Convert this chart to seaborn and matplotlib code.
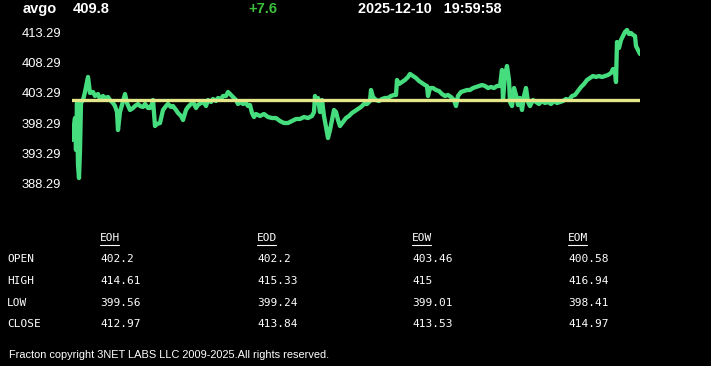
"""
AVGO intraday snapshot - price trace with open line and period OHLC table
"""

import numpy as np
import pandas as pd
import matplotlib
matplotlib.use('Agg')
import matplotlib.pyplot as plt
from matplotlib.lines import Line2D
import seaborn as sns

# ---- data ----
symbol = 'avgo'
last_price = 409.8
change = '+7.6'
stamp = '2025-12-10   19:59:58'
open_price = 402.2

# session position (left to right) and traded price
t = [72, 74, 75, 76, 77, 78, 79, 80, 81, 83, 85, 88, 90, 93, 95, 98, 100, 103, 105, 108,
     110, 113, 115, 117, 118, 120, 122, 125, 127, 130, 133, 135, 138, 140, 143, 145, 148, 150, 152, 153,
     155, 157, 160, 163, 166, 168, 171, 173, 176, 178, 181, 183, 186, 188, 191, 193, 196, 198, 201, 203,
     206, 208, 211, 213, 216, 218, 221, 223, 226, 228, 231, 233, 236, 238, 241, 243, 246, 248, 250, 252,
     254, 256, 260, 264, 268, 272, 276, 280, 284, 288, 292, 296, 300, 304, 308, 312, 314, 315, 316, 318,
     320, 322, 324, 326, 328, 330, 332, 334, 336, 338, 340, 343, 346, 349, 352, 355, 358, 361, 364, 367,
     370, 371, 373, 376, 379, 382, 385, 388, 391, 394, 396, 397, 399, 402, 405, 408, 410, 413, 416, 419,
     422, 425, 427, 428, 430, 433, 436, 439, 442, 445, 448, 451, 454, 456, 458, 461, 464, 467, 470, 473,
     476, 479, 482, 485, 488, 491, 494, 497, 500, 502, 503, 505, 507, 509, 510, 512, 514, 516, 518, 520,
     522, 524, 526, 528, 530, 533, 536, 539, 542, 545, 548, 551, 554, 557, 560, 563, 566, 569, 572, 575,
     578, 581, 584, 587, 590, 593, 596, 599, 602, 605, 608, 611, 613, 615, 616, 617, 619, 621, 623, 625,
     627, 629, 631, 633, 635, 636, 638, 640]
price = [395.46, 397.96, 399.12, 393.79, 401.62, 391.29, 389.12, 393.79, 401.62, 402.12,
         403.46, 405.96, 403.29, 403.46, 402.79, 403.12, 402.29, 402.79, 402.46, 402.62,
         402.12, 401.62, 401.12, 400.12, 397.12, 400.12, 401.29, 403.12, 401.62, 400.46,
         400.79, 401.12, 401.46, 401.12, 400.96, 401.46, 400.79, 400.79, 401.46, 402.12,
         397.79, 398.12, 398.29, 400.46, 401.12, 401.46, 400.96, 401.12, 400.46, 399.96,
         399.46, 398.79, 400.46, 400.96, 401.46, 401.79, 400.79, 401.29, 401.62, 401.96,
         401.12, 402.12, 401.79, 402.29, 401.96, 402.46, 402.29, 402.79, 402.79, 403.46,
         402.96, 402.62, 402.12, 401.46, 401.79, 401.46, 401.62, 401.12, 401.29, 399.96,
         399.29, 399.79, 399.46, 399.79, 399.29, 399.12, 399.12, 398.62, 398.29, 398.29,
         398.62, 398.96, 398.96, 399.29, 399.12, 399.46, 400.12, 402.79, 401.62, 402.46,
         400.12, 402.12, 399.46, 397.62, 395.79, 397.12, 398.79, 400.46, 400.12, 398.79,
         397.79, 398.46, 399.12, 399.46, 399.96, 400.29, 400.62, 400.96, 401.46, 401.46,
         401.96, 403.79, 402.62, 402.12, 401.96, 402.29, 402.46, 402.46, 402.79, 402.96,
         402.96, 405.46, 404.79, 405.12, 405.46, 405.96, 406.46, 406.12, 405.79, 405.29,
         404.96, 404.62, 404.46, 402.79, 404.12, 404.12, 403.79, 403.62, 403.12, 402.79,
         402.96, 402.62, 402.12, 401.12, 402.79, 403.46, 403.62, 403.79, 403.79, 404.12,
         404.29, 404.46, 404.62, 404.46, 404.12, 404.29, 404.12, 404.46, 404.46, 407.12,
         402.12, 406.29, 407.79, 405.46, 401.79, 401.12, 404.12, 402.96, 401.29, 402.46,
         400.46, 402.79, 404.12, 401.79, 401.12, 402.12, 401.79, 401.46, 401.96, 401.62,
         401.79, 401.46, 401.96, 401.62, 401.79, 401.96, 402.29, 402.12, 402.79, 402.96,
         403.62, 404.29, 404.79, 405.46, 405.79, 406.12, 405.96, 406.12, 405.96, 406.12,
         406.29, 406.62, 407.29, 406.79, 405.12, 411.79, 410.79, 412.12, 412.79, 413.46,
         413.79, 413.12, 413.29, 412.96, 412.79, 411.12, 410.46, 409.79]

yticks = [388.29, 393.29, 398.29, 403.29, 408.29, 413.29]

# period OHLC table
periods = ['EOH', 'EOD', 'EOW', 'EOM']
row_names = ['OPEN', 'HIGH', 'LOW', 'CLOSE']
open_vals = ['402.2', '402.2', '403.46', '400.58']
high_vals = ['414.61', '415.33', '415', '416.94']
low_vals = ['399.56', '399.24', '399.01', '398.41']
close_vals = ['412.97', '413.84', '413.53', '414.97']

footer = 'Fracton copyright 3NET LABS LLC 2009-2025.All rights reserved.'

# ---- style ----
sns.set_theme(style='dark', rc={'axes.facecolor': 'black', 'figure.facecolor': 'black'})
plt.rcParams['font.family'] = ['Liberation Sans', 'DejaVu Sans']

W, H = 711, 366
fig = plt.figure(figsize=(W / 100, H / 100), dpi=100, facecolor='black')

# price panel
ax = fig.add_axes([72 / W, 1 - 185 / H, 568 / W, 157 / H])
ax.set_facecolor('black')
df = pd.DataFrame({'t': t, 'price': price})
sns.lineplot(data=df, x='t', y='price', ax=ax, color='#46dd7e', linewidth=3.1)
ax.axhline(open_price, color='#e4e68a', linewidth=2.4)

ax.set_xlim(72, 640)
ax.set_ylim(387.96, 414.12)
ax.set_xticks([])
ax.set_yticks(yticks)
ax.set_yticklabels([f'{v:.2f}' for v in yticks], color='white', fontsize=9.3)
ax.tick_params(axis='y', length=0, pad=50 * 0.72)
for lab in ax.get_yticklabels():
    lab.set_horizontalalignment('left')
ax.set_xlabel('')
ax.set_ylabel('')
ax.grid(False)
for s in ax.spines.values():
    s.set_visible(False)

# header
def px(x, y):
    return x / W, 1 - y / H

fig.text(*px(23, 9), symbol, color='white', fontsize=10.5, fontweight='bold', va='center')
fig.text(*px(73, 9), f'{last_price}', color='white', fontsize=10.5, fontweight='bold', va='center')
fig.text(*px(248, 9), change, color='#3cc03c', fontsize=10.5, fontweight='bold', va='center')
fig.text(*px(358, 9), stamp, color='white', fontsize=10.4, fontweight='bold', va='center')

# OHLC table
mono = ['DejaVu Sans Mono']
col_x = [100, 257, 412, 568]
row_y = [259, 281, 303, 324]
for x, name in zip(col_x, periods):
    fig.text(*px(x, 238), name, color='white', fontsize=8, family=mono, va='center')
    fig.add_artist(Line2D([x / W, (x + 19) / W], [1 - 245 / H, 1 - 245 / H],
                          color='white', linewidth=0.8))
for y, name, vals in zip(row_y, row_names, [open_vals, high_vals, low_vals, close_vals]):
    fig.text(*px(7, y), name, color='white', fontsize=8, family=mono, va='center')
    for x, v in zip(col_x, vals):
        fig.text(*px(x, y), v, color='white', fontsize=8, family=mono, va='center')

fig.text(*px(9, 355), footer, color='white', fontsize=7.9, va='center')

plt.savefig('out.png', dpi=100, facecolor='black')
